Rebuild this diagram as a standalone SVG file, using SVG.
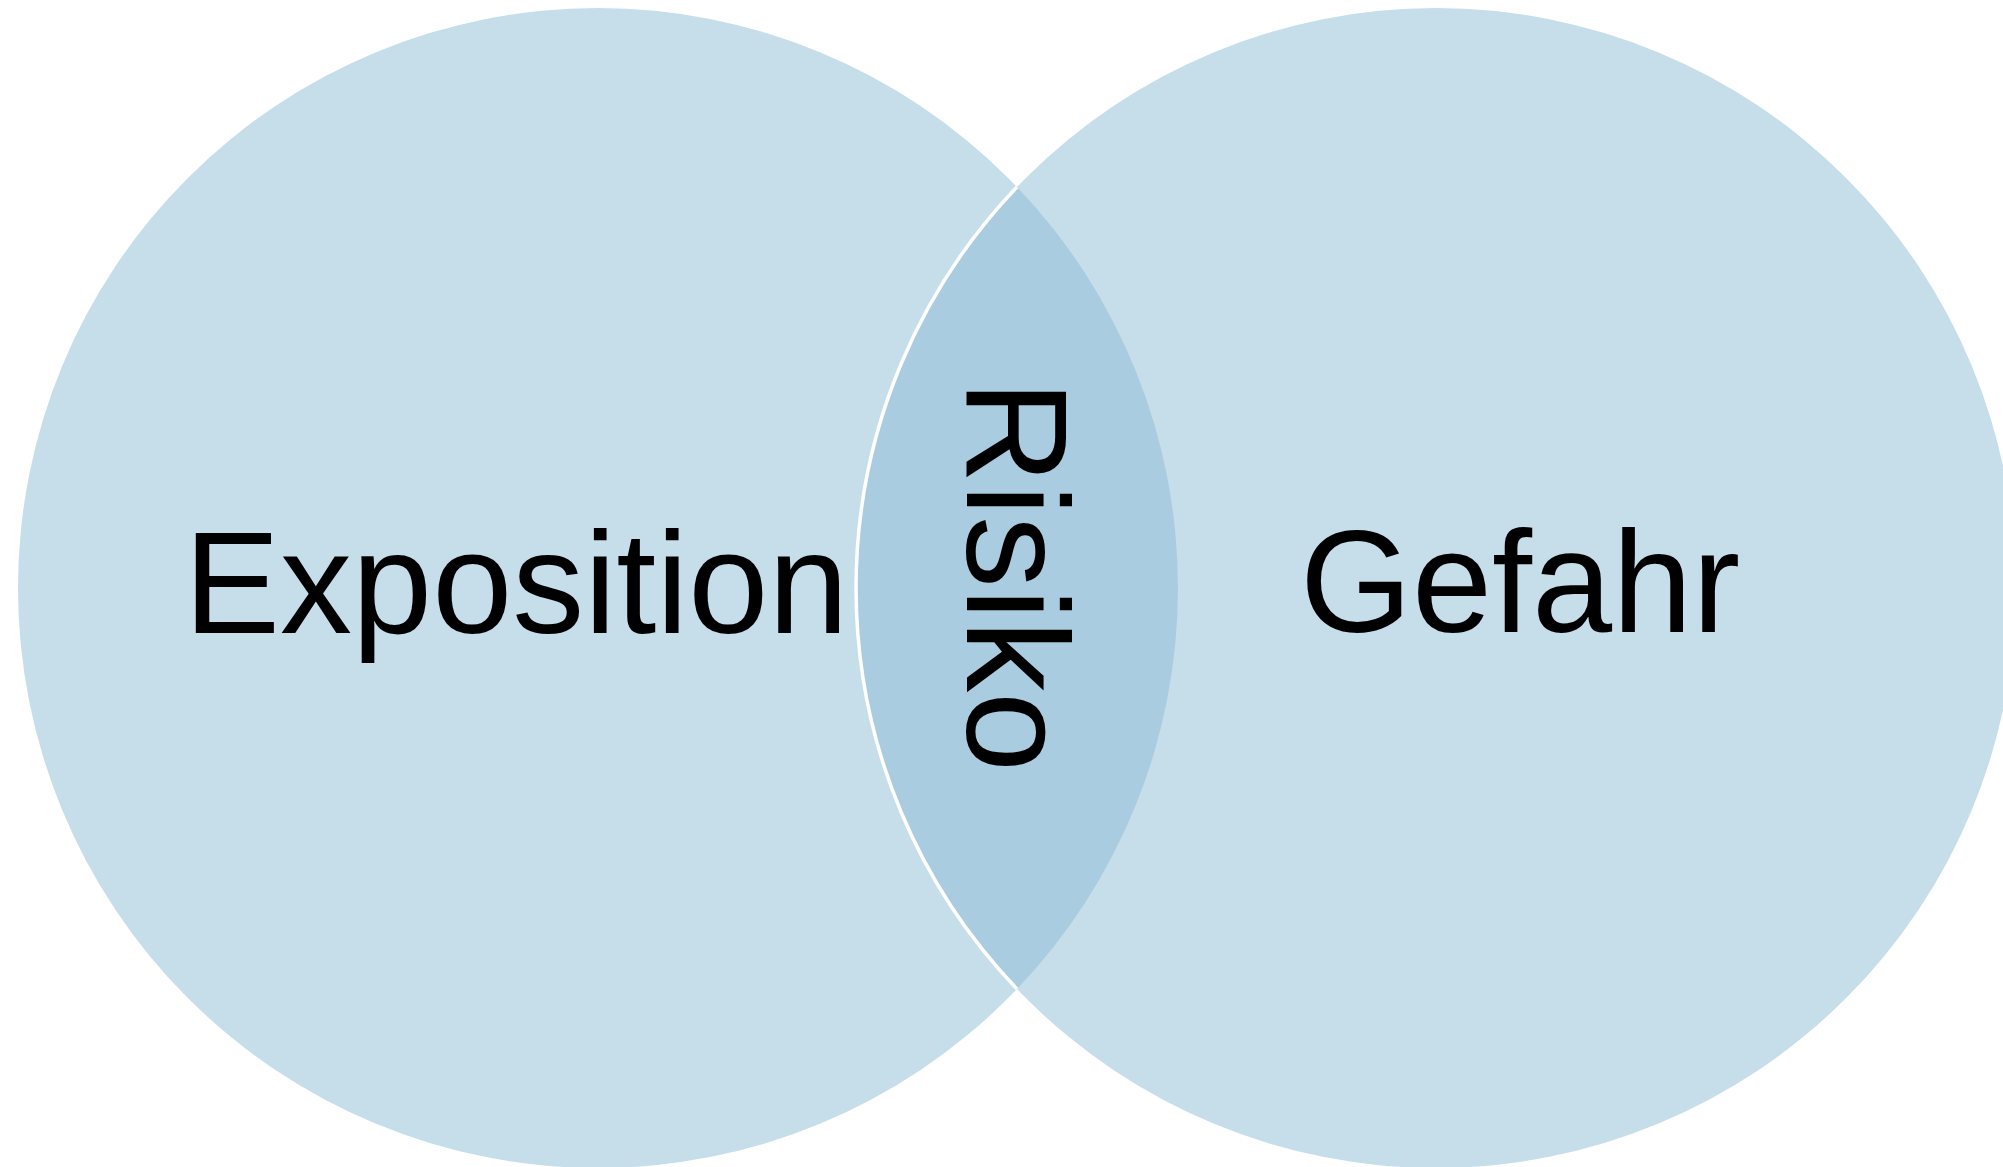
<svg xmlns="http://www.w3.org/2000/svg" width="2003" height="1167" viewBox="0 0 2003 1167">
<style>
.c{fill:#C5DEEA}
.lens{fill:#A9CCE1}
.t{font-family:"Liberation Sans",Arial,sans-serif;font-size:144px;fill:#000}
</style>
<rect width="2003" height="1167" fill="#fff"/>
<g id="exposition">
<circle class="c" cx="598" cy="588" r="580"/>
<text class="t" x="184" y="633">Exposition</text>
</g>
<g id="gefahr">
<circle class="c" cx="1436" cy="588" r="580"/>
<text class="t" x="1300" y="632">Gefahr</text>
</g>
<g id="risiko">
<path class="lens" d="M1017 187 A580 580 0 0 0 1017 989 A580 580 0 0 0 1017 187 Z"/>
<path d="M1017 187 A580 580 0 0 0 1017 989" fill="none" stroke="#fff" stroke-width="3.5"/>
<text class="t" transform="translate(967,380) rotate(90)">Risiko</text>
</g>
<g id="connectors"></g>
</svg>
